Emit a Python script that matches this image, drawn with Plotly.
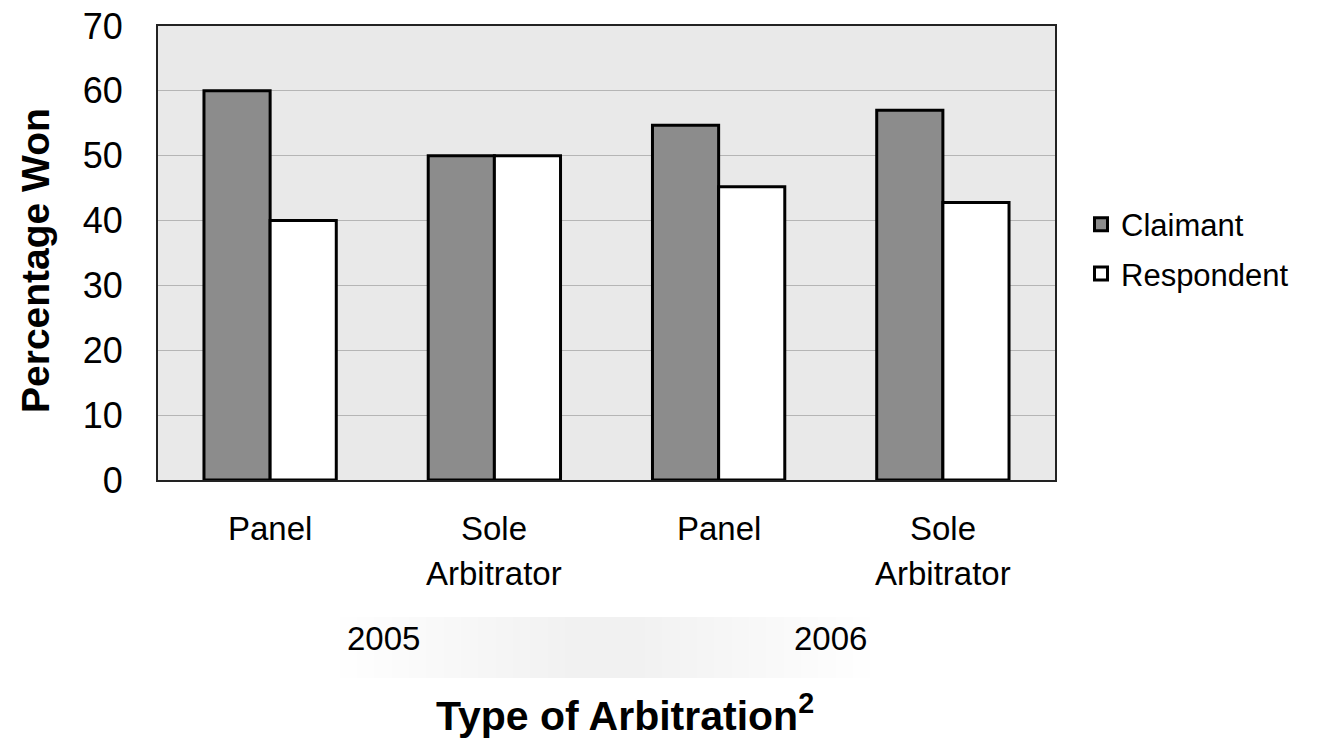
import plotly.graph_objects as go

categories = ["Panel 2005", "Sole 2005", "Panel 2006", "Sole 2006"]
tick_line1 = ["Panel", "Sole", "Panel", "Sole"]
tick_line2 = ["", "Arbitrator", "", "Arbitrator"]
years = ["2005", "2006"]
series_names = ["Claimant", "Respondent"]
claimant = [60, 50, 54.7, 57]
respondent = [40, 50, 45.2, 42.8]

FONT = "Arial, Liberation Sans, sans-serif"

W, H = 1332, 740
# plot area in screen pixels
L, R, T, B = 158, 1055, 26, 480
PW, PH = R - L, B - T


def px(x):
    return (x - L) / PW


def py(y):
    return (B - y) / PH


colors = ["#8c8c8c", "white"]

fig = go.Figure()
for name, vals, col in zip(series_names, [claimant, respondent], colors):
    fig.add_trace(go.Bar(x=categories, y=vals, name=name, showlegend=False,
                         marker=dict(color=col, line=dict(color="black", width=3))))
for i, (name, col) in enumerate(zip(series_names, colors)):
    fig.add_trace(go.Scatter(x=[None], y=[None], mode="markers", name=name,
                             legendgroup=name,
                             marker=dict(symbol="square", size=13, color=col,
                                         line=dict(color="black", width=3))))

# category labels
for c, l1, l2 in zip(categories, tick_line1, tick_line2):
    fig.add_annotation(x=c, y=py(528), xref="x", yref="paper", text=l1, showarrow=False,
                       font=dict(size=33, color="black", family=FONT),
                       xanchor="center", yanchor="middle")
    if l2:
        fig.add_annotation(x=c, y=py(573), xref="x", yref="paper", text=l2, showarrow=False,
                           font=dict(size=33, color="black", family=FONT),
                           xanchor="center", yanchor="middle")

# soft gradient band behind years
n = 14
x0, x1 = 340, 870
cx = (x0 + x1) / 2
for i in range(n):
    t = i / (n - 1)
    w = (x1 - x0) * (1 - 0.85 * t) / 2
    fig.add_shape(type="rect", xref="paper", yref="paper",
                  x0=px(cx - w), x1=px(cx + w),
                  y0=py(678), y1=py(617),
                  fillcolor="rgba(170,170,170,0.012)", line=dict(width=0), layer="below")

for yr, xp in zip(years, [383, 830]):
    fig.add_annotation(x=px(xp), y=py(638), xref="paper", yref="paper",
                       text=yr, showarrow=False, xanchor="center", yanchor="middle",
                       font=dict(size=33, color="black", family=FONT))

fig.add_annotation(x=px(625), y=py(713), xref="paper", yref="paper",
                   xanchor="center", yanchor="middle",
                   text="<b>Type of Arbitration<sup>2</sup></b>", showarrow=False,
                   font=dict(size=41, color="black", family=FONT))

fig.add_annotation(x=px(35), y=py(261), xref="paper", yref="paper",
                   xanchor="center", yanchor="middle", textangle=-90,
                   text="<b>Percentage Won</b>", showarrow=False,
                   font=dict(size=39, color="black", family=FONT))

fig.update_layout(
    width=W, height=H,
    margin=dict(l=L, r=W - R, t=T, b=H - B, autoexpand=False),
    paper_bgcolor="white", plot_bgcolor="#e9e9e9",
    barmode="group", bargap=0.41, bargroupgap=0,
    font=dict(family=FONT, color="black"),
    showlegend=True,
    legend=dict(x=px(1081), y=py(249), xanchor="left", yanchor="middle",
                font=dict(size=31, family=FONT, color="black"),
                traceorder="grouped", tracegroupgap=6, bgcolor="rgba(0,0,0,0)",
                itemwidth=30),
    yaxis=dict(range=[0, 70], dtick=10, showgrid=True, gridcolor="#b5b5b5", gridwidth=1,
               tickfont=dict(size=36, family=FONT), ticks="", ticklabelstandoff=26,
               ticklabeloverflow="allow",
               showline=True, linecolor="#222", linewidth=2, mirror=True, zeroline=False,
               automargin=False),
    xaxis=dict(showticklabels=False, showline=True, linecolor="#222", linewidth=2, mirror=True,
               ticks="", automargin=False),
)

fig.write_html("out.html", config={"displayModeBar": False},
               post_script="document.body.style.margin='0';document.body.style.overflow='hidden';")
